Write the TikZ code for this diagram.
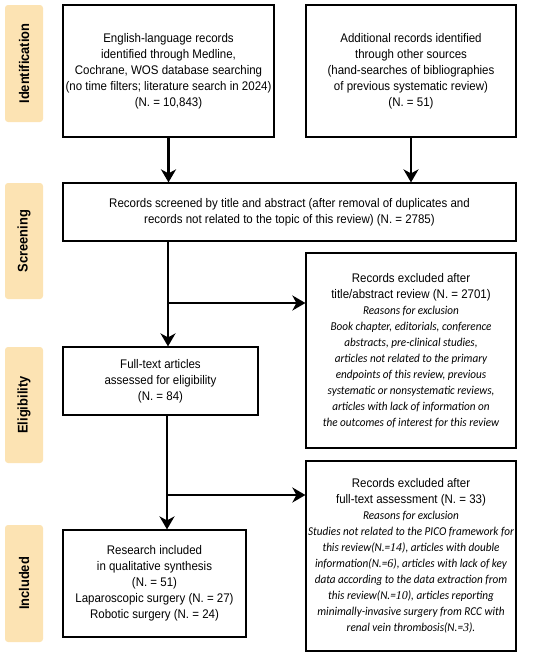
\documentclass[tikz,border=0pt]{standalone}
\usepackage{fontspec}
\setmainfont[FakeStretch=0.92]{Liberation Sans}
\newfontfamily\itf[FakeStretch=0.93]{Carlito}
\newfontfamily\snum{Liberation Serif}
\usetikzlibrary{arrows.meta}
\newcommand{\nn}[1]{{\snum\itshape #1}}
\tikzset{
  box/.style={draw=black, line width=1.2pt, fill=white, inner sep=0pt, align=center,
    font=\fontsize{12.5}{16}\selectfont},
  stage/.style={fill=stagefill, rounded corners=3pt, inner sep=0pt, rotate=90,
    font=\fontsize{14}{15}\selectfont\bfseries},
  arr/.style={line width=2.2pt, -{Stealth[length=13pt,width=15pt,inset=4pt]}},
  itx/.style={font=\fontsize{12}{16}\selectfont\itf\itshape},
}
\definecolor{stagefill}{HTML}{FCE3B3}
\newcommand{\ix}[1]{{\fontsize{12}{16}\selectfont\itf\itshape #1}}
\begin{document}
\begin{tikzpicture}[x=1pt,y=-1pt]
\useasboundingbox (0,0) rectangle (550,657);
% stage labels
\node[stage, minimum width=117pt, minimum height=38pt] (s1) at (24,63.5) {Identification};
\node[stage, minimum width=116pt, minimum height=38pt] (s2) at (24,241) {Screening};
\node[stage, minimum width=116pt, minimum height=38pt] (s3) at (24,405) {Eligibility};
\node[stage, minimum width=117pt, minimum height=38pt] (s4) at (24,583.5) {Included};
% boxes
\node[box, minimum width=211pt, minimum height=132pt] (b1) at (168.5,71)
  {English-language records\\identified through Medline,\\Cochrane, WOS database searching\\(no time filters; literature search in 2024)\\(N. = 10,843)};
\node[box, minimum width=210pt, minimum height=132pt] (b2) at (411,71)
  {Additional records identified\\through other sources\\(hand-searches of bibliographies\\of previous systematic review)\\(N. = 51)};
\node[box, minimum width=453pt, minimum height=58pt] (b3) at (289.5,212)
  {Records screened by title and abstract (after removal of duplicates and\\records not related to the topic of this review) (N. = 2785)};
\node[box, minimum width=210pt, minimum height=195pt] (b4) at (411,350.5)
  {Records excluded after\\title/abstract review (N. = 2701)\\
  \ix{Reasons for exclusion}\\
  \ix{Book chapter, editorials, conference}\\
  \ix{abstracts, pre-clinical studies,}\\
  \ix{articles not related to the primary}\\
  \ix{endpoints of this review, previous}\\
  \ix{systematic or nonsystematic reviews,}\\
  \ix{articles with lack of information on}\\
  \ix{the outcomes of interest for this review}};
\node[box, minimum width=195pt, minimum height=68pt] (b5) at (160.5,381)
  {Full-text articles\\assessed for eligibility\\(N. = 84)};
\node[box, minimum width=183pt, minimum height=107pt] (b6) at (154.5,583.5)
  {Research included\\in qualitative synthesis\\(N. = 51)\\Laparoscopic surgery (N. = 27)\\Robotic surgery (N. = 24)};
\node[box, minimum width=210pt, minimum height=190pt] (b7) at (411,556)
  {Records excluded after\\full-text assessment (N. = 33)\\
  \ix{Reasons for exclusion}\\
  \ix{Studies not related to the PICO framework for}\\
  \ix{this review(N.=\nn{14}), articles with double}\\
  \ix{information(N.=\nn{6}), articles with lack of key}\\
  \ix{data according to the data extraction from}\\
  \ix{this review(N.=\nn{10}), articles reporting}\\
  \ix{minimally-invasive surgery from RCC with}\\
  \ix{renal vein thrombosis(N.=\nn{3}).}};
% connectors
\coordinate (c1) at (168,303);
\coordinate (c2) at (167,495);
\draw[arr] (b1.south) -- (b3.north -| b1.south);
\draw[arr] (b2.south) -- (b3.north -| b2.south);
\draw[arr] (b3.south -| c1) -- (b5.north -| c1);
\draw[arr] (c1) -- (c1 -| b4.west);
\draw[arr] (b5.south -| c2) -- (b6.north -| c2);
\draw[arr] (c2) -- (c2 -| b7.west);
\end{tikzpicture}
\end{document}
